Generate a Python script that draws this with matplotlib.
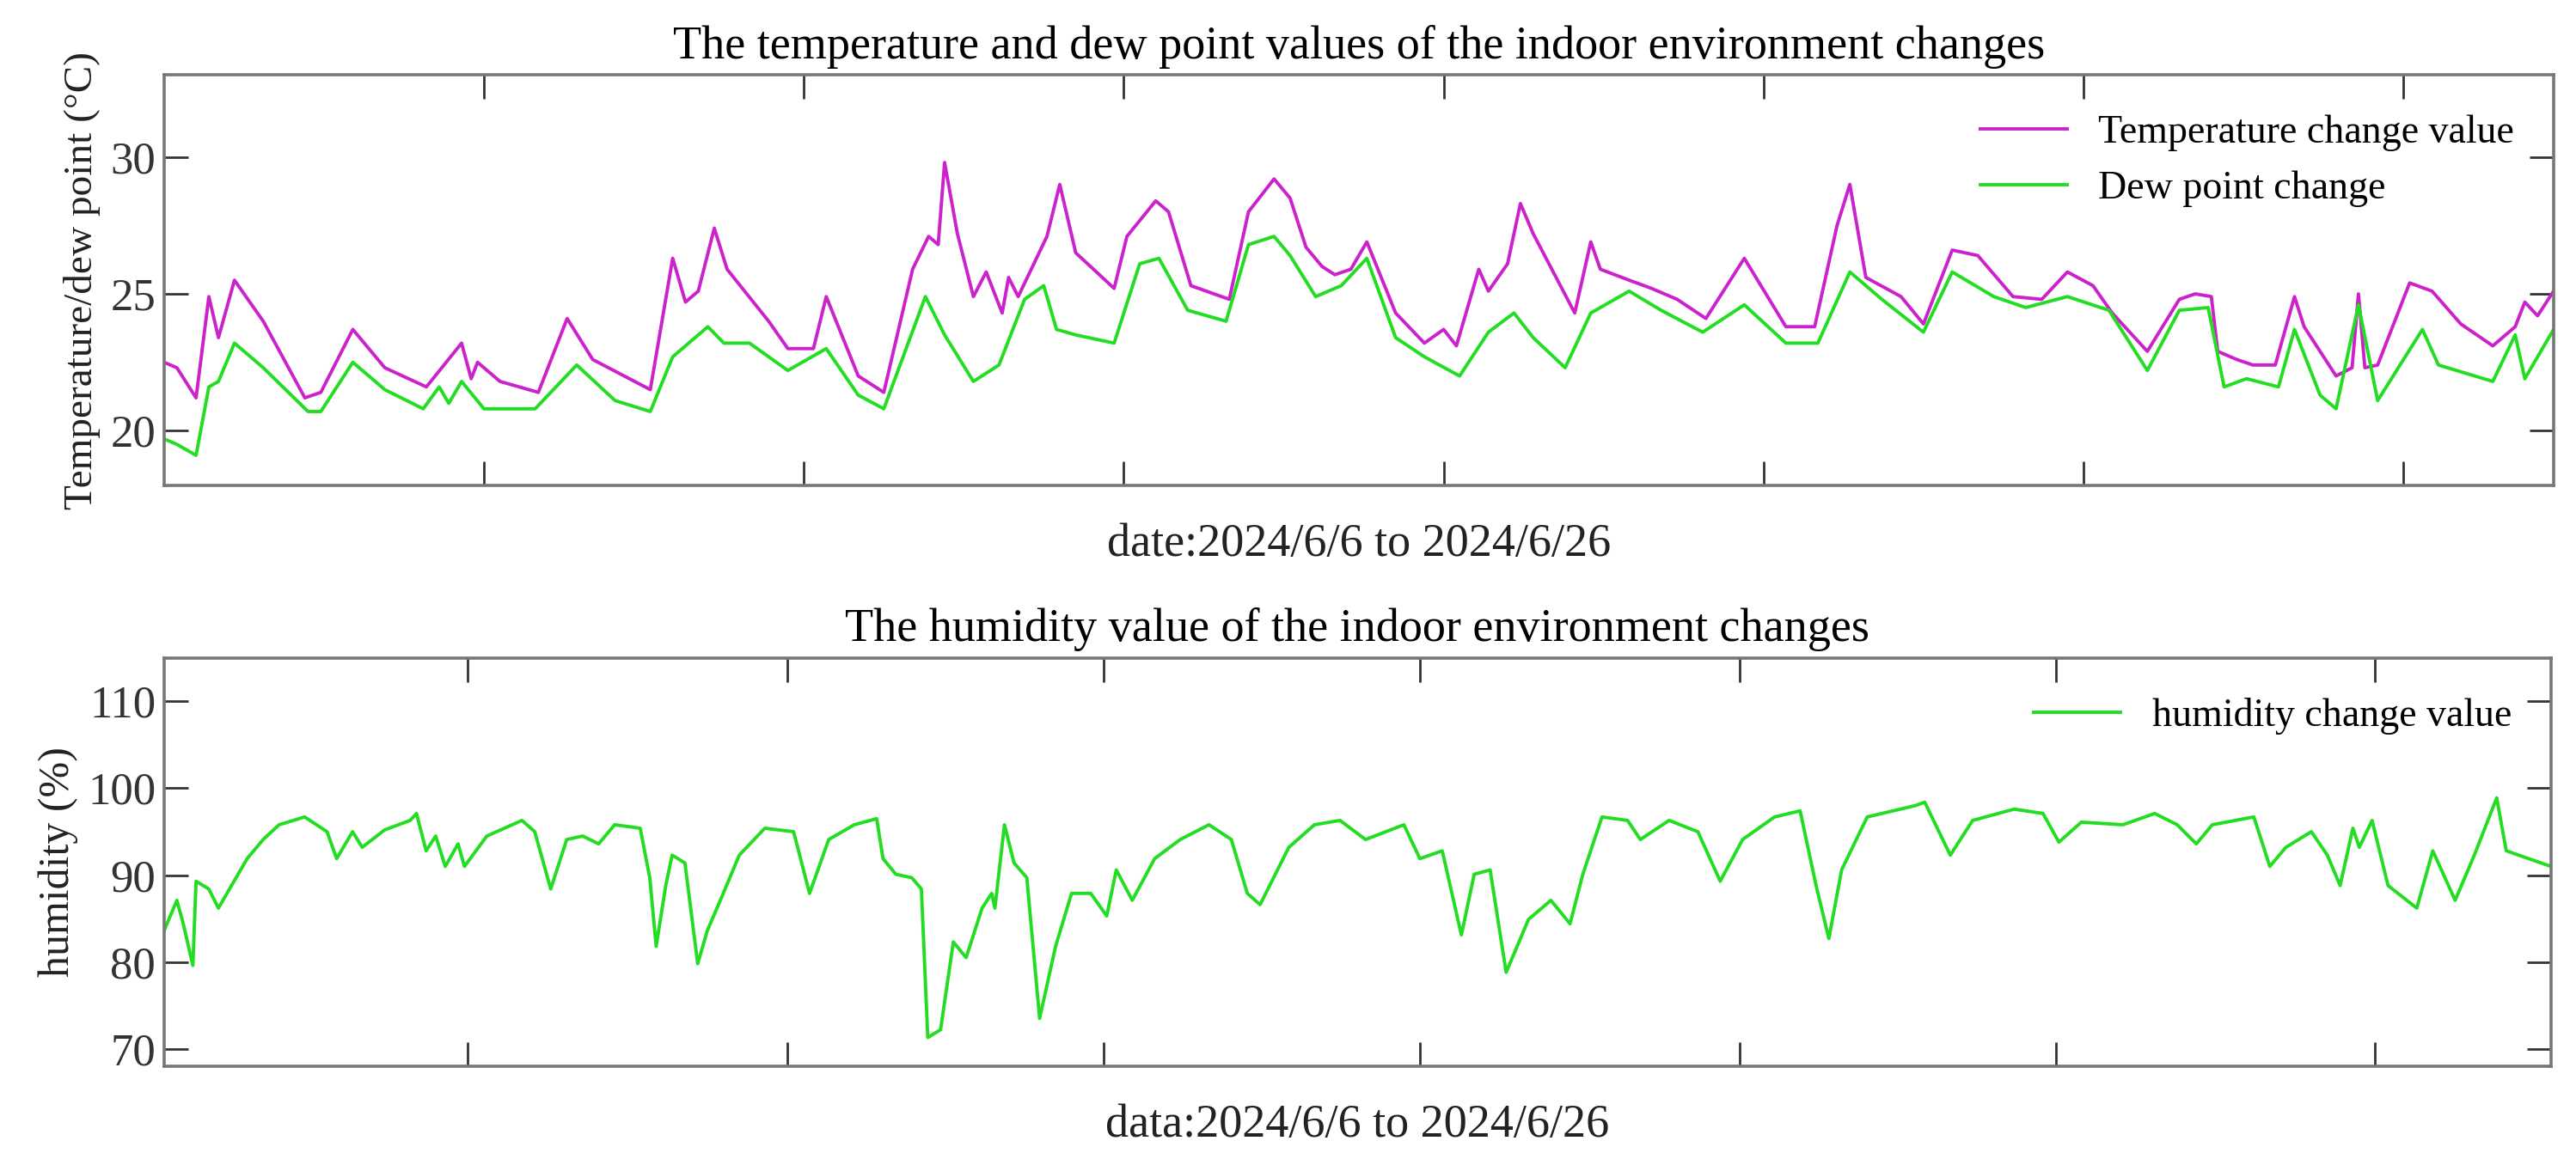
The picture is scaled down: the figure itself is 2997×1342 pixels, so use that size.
import matplotlib
matplotlib.use("Agg")
from matplotlib import pyplot as plt

plt.rcParams["font.family"] = ["Liberation Serif", "DejaVu Serif"]

# sample index (roughly hourly) vs values
temp_x = [0, 4, 10, 14, 17, 22, 31, 44, 49, 59, 69, 82, 93, 96, 98, 105, 117, 126, 134, 152,
          159, 163, 167, 172, 176, 189, 195, 203, 207, 217, 225, 234, 239, 242, 244, 248, 253,
          257, 262, 264, 267, 276, 280, 285, 297, 301, 310, 314, 321, 333, 339, 347, 352, 357,
          362, 366, 371, 376, 385, 394, 400, 404, 411, 414, 420, 424, 428, 441, 446, 449, 458,
          465, 473, 482, 494, 507, 516, 523, 527, 532, 543, 550, 559, 567, 578, 587, 595, 603,
          609, 620, 630, 635, 640, 642, 648, 653, 660, 666, 669, 679, 684, 686, 688, 692, 702,
          709, 718, 728, 735, 738, 742, 747]
temp_y = [22.5, 22.3, 21.2, 24.9, 23.4, 25.5, 24.0, 21.2, 21.4, 23.7, 22.3, 21.6, 23.2, 21.9,
          22.5, 21.8, 21.4, 24.1, 22.6, 21.5, 26.3, 24.7, 25.1, 27.4, 25.9, 24.0, 23.0, 23.0,
          24.9, 22.0, 21.4, 25.9, 27.1, 26.8, 29.8, 27.2, 24.9, 25.8, 24.3, 25.6, 24.9, 27.1,
          29.0, 26.5, 25.2, 27.1, 28.4, 28.0, 25.3, 24.8, 28.0, 29.2, 28.5, 26.7, 26.0, 25.7,
          25.9, 26.9, 24.3, 23.2, 23.7, 23.1, 25.9, 25.1, 26.1, 28.3, 27.2, 24.3, 26.9, 25.9,
          25.5, 25.2, 24.8, 24.1, 26.3, 23.8, 23.8, 27.5, 29.0, 25.6, 24.9, 23.9, 26.6, 26.4,
          24.9, 24.8, 25.8, 25.3, 24.3, 22.9, 24.8, 25.0, 24.9, 22.9, 22.6, 22.4, 22.4, 24.9,
          23.8, 22.0, 22.3, 25.0, 22.3, 22.4, 25.4, 25.1, 23.9, 23.1, 23.8, 24.7, 24.2, 25.1]

dew_x = [0, 4, 10, 14, 17, 22, 31, 45, 49, 59, 69, 81, 86, 89, 93, 100, 116, 129, 141, 152,
         159, 170, 175, 183, 195, 207, 217, 225, 238, 244, 253, 261, 269, 275, 279, 285, 297,
         305, 311, 320, 332, 339, 347, 352, 360, 368, 376, 385, 394, 405, 414, 422, 428, 438,
         446, 458, 468, 481, 494, 507, 517, 527, 537, 550, 559, 572, 582, 595, 608, 620, 630,
         639, 644, 651, 661, 666, 674, 679, 686, 692, 706, 711, 728, 735, 738, 747]
dew_y = [19.7, 19.5, 19.1, 21.6, 21.8, 23.2, 22.3, 20.7, 20.7, 22.5, 21.5, 20.8, 21.6, 21.0,
         21.8, 20.8, 20.8, 22.4, 21.1, 20.7, 22.7, 23.8, 23.2, 23.2, 22.2, 23.0, 21.3, 20.8,
         24.9, 23.5, 21.8, 22.4, 24.8, 25.3, 23.7, 23.5, 23.2, 26.1, 26.3, 24.4, 24.0, 26.8,
         27.1, 26.4, 24.9, 25.3, 26.3, 23.4, 22.7, 22.0, 23.6, 24.3, 23.4, 22.3, 24.3, 25.1,
         24.4, 23.6, 24.6, 23.2, 23.2, 25.8, 24.8, 23.6, 25.8, 24.9, 24.5, 24.9, 24.4, 22.2,
         24.4, 24.5, 21.6, 21.9, 21.6, 23.7, 21.3, 20.8, 24.6, 21.1, 23.7, 22.4, 21.8, 23.5,
         21.9, 23.7]

hum_x = [0, 4, 6, 9, 10, 14, 17, 26, 31, 36, 44, 51, 54, 59, 62, 69, 77, 79, 82, 85, 88, 92,
         94, 101, 112, 116, 121, 126, 131, 136, 141, 149, 152, 154, 157, 159, 163, 167, 170,
         175, 180, 188, 197, 202, 208, 216, 223, 225, 229, 234, 237, 239, 243, 247, 251, 256,
         259, 260, 263, 266, 270, 274, 279, 284, 290, 295, 298, 303, 310, 318, 327, 334, 339,
         343, 352, 360, 368, 376, 388, 393, 400, 406, 410, 415, 420, 427, 434, 440, 444, 450,
         458, 462, 471, 480, 487, 494, 504, 512, 517, 521, 525, 533, 548, 551, 559, 566, 579,
         588, 593, 600, 613, 623, 630, 636, 641, 654, 659, 664, 672, 677, 681, 685, 687, 691,
         696, 705, 710, 717, 723, 730, 733, 747]
hum_y = [83.6, 87.1, 84.4, 79.6, 89.3, 88.4, 86.2, 91.9, 94.1, 95.8, 96.7, 95.0, 91.9, 95.0,
         93.2, 95.2, 96.3, 97.1, 92.8, 94.5, 91.0, 93.6, 91.0, 94.5, 96.3, 95.0, 88.4, 94.1,
         94.5, 93.6, 95.8, 95.4, 89.7, 81.8, 88.8, 92.3, 91.4, 79.8, 83.6, 87.9, 92.3, 95.4,
         95.0, 87.9, 94.1, 95.8, 96.5, 91.9, 90.1, 89.7, 88.4, 71.3, 72.2, 82.3, 80.5, 86.2,
         87.9, 86.2, 95.8, 91.4, 89.7, 73.5, 81.8, 87.9, 87.9, 85.3, 90.6, 87.1, 91.9, 94.1,
         95.8, 94.1, 87.9, 86.6, 93.2, 95.8, 96.3, 94.1, 95.8, 91.9, 92.8, 83.1, 90.1, 90.6,
         78.8, 84.9, 87.1, 84.4, 90.1, 96.7, 96.3, 94.1, 96.3, 95.0, 89.3, 94.1, 96.7, 97.4,
         88.8, 82.7, 90.6, 96.7, 98.0, 98.4, 92.3, 96.3, 97.6, 97.1, 93.8, 96.1, 95.8, 97.1,
         95.8, 93.6, 95.8, 96.7, 91.0, 93.2, 95.0, 92.3, 88.8, 95.4, 93.2, 96.3, 88.8, 86.2,
         92.8, 87.1, 92.3, 98.9, 92.8, 91.0]

top_ticks = [100, 200, 300, 400, 500, 600, 700]
bottom_ticks = [95, 195, 294, 393, 493, 592, 692]

MAGENTA = '#cc22cc'
GREEN = '#22dd22'
SPINE = '#777777'

fig = plt.figure(figsize=(14.985, 6.71), dpi=200)
ax1 = fig.add_axes([0.0637, 0.579, 0.9276, 0.356])
ax2 = fig.add_axes([0.0637, 0.0753, 0.9266, 0.354])


def style_axes(ax, ticks):
    """MATLAB-like boxed axes"""
    for spine in ax.spines.values():
        spine.set_color(SPINE)
        spine.set_linewidth(1.3)
    ax.set_xticks(ticks)
    ax.set_xticklabels([])
    ax.tick_params(direction='in', length=10, width=1.0, color='#333333',
                   top=True, right=True, labelsize=19, labelcolor='#333333')


ax1.plot(temp_x, temp_y, color=MAGENTA, linewidth=1.4, label='Temperature change value')
ax1.plot(dew_x, dew_y, color=GREEN, linewidth=1.4, label='Dew point change')
ax1.set_xlim(0, 747)
ax1.set_ylim(18, 33)
ax1.set_yticks([20, 25, 30])
style_axes(ax1, top_ticks)
ax1.set_title('The temperature and dew point values of the indoor environment changes', fontsize=19.5, pad=7)
ax1.set_xlabel('date:2024/6/6 to 2024/6/26', fontsize=19.5, labelpad=12, color='#222222')
ax1.set_ylabel('Temperature/dew point (\u00b0C)', fontsize=17, color='#222222')
ax1.legend(loc='upper right', frameon=False, fontsize=16.5, handlelength=2.2, borderaxespad=0.6)

ax2.plot(hum_x, hum_y, color=GREEN, linewidth=1.4, label='humidity change value')
ax2.set_xlim(0, 747)
ax2.set_ylim(68, 115)
ax2.set_yticks([70, 80, 90, 100, 110])
style_axes(ax2, bottom_ticks)
ax2.set_title('The humidity value of the indoor environment changes', fontsize=19.5, pad=7)
ax2.set_xlabel('data:2024/6/6 to 2024/6/26', fontsize=19.5, labelpad=12, color='#222222')
ax2.set_ylabel('humidity (%)', fontsize=18, color='#222222')
ax2.legend(loc='upper right', frameon=False, fontsize=16.5, handlelength=2.2, borderaxespad=0.6)

fig.savefig('out.png', dpi=200)
